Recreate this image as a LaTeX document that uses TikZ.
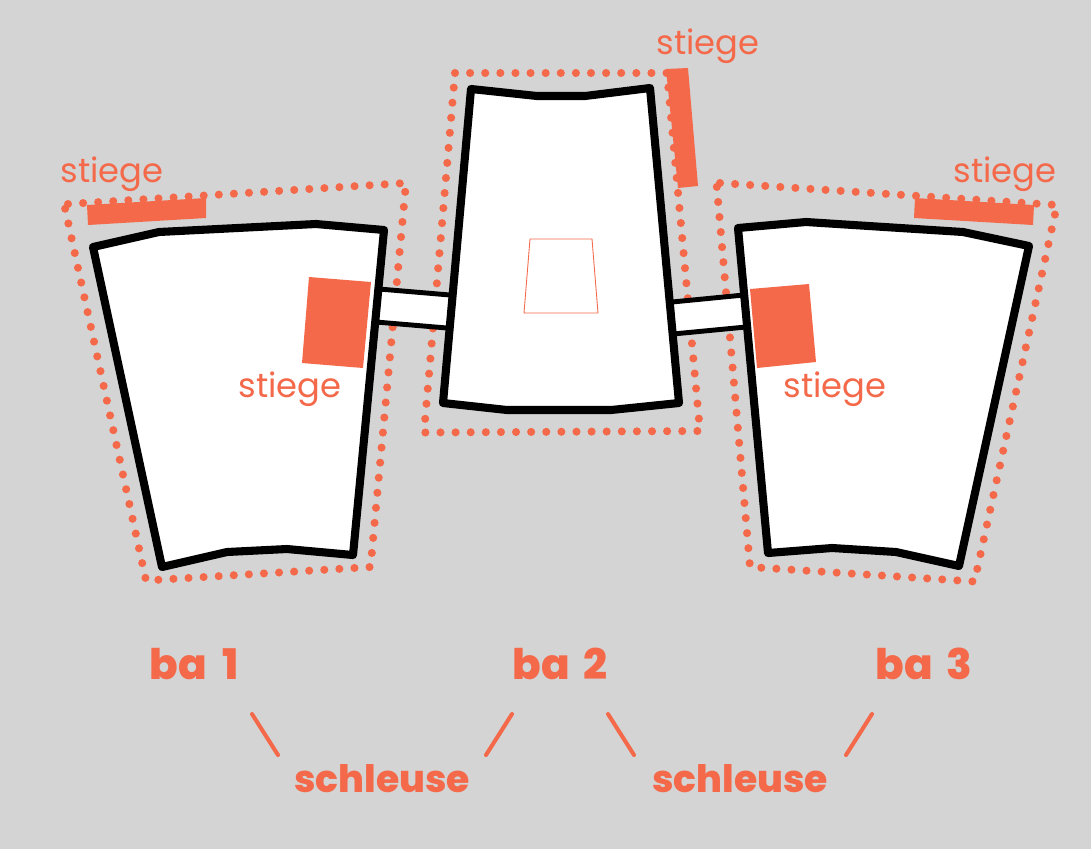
\documentclass[tikz,border=0pt]{standalone}
\usepackage{fontspec}
\setmainfont{Poppins}
\newfontfamily\bafont{Poppins ExtraBold}
\definecolor{stiegeorange}{HTML}{F4694A}
\definecolor{planbg}{HTML}{D4D4D4}
\tikzset{
	x=0.02cm, y=-0.02cm,
	wall/.style={line width=4.6pt, draw=black, fill=white, line join=round},
	sluice/.style={line width=2.8pt, draw=black},
	stair/.style={fill=stiegeorange},
	zone/.style={line width=4.6pt, draw=stiegeorange, line cap=round, dash pattern=on 0pt off 8.6pt},
	stiegelabel/.style={text=stiegeorange, font=\fontsize{19.2}{19.2}\selectfont, inner sep=0pt, anchor=base},
	balabel/.style={text=stiegeorange, font=\bafont\fontsize{24}{24}\selectfont, inner sep=0pt, anchor=base},
	schleuselabel/.style={text=stiegeorange, font=\bafont\fontsize{21.5}{21.5}\selectfont, inner sep=0pt, anchor=base},
	leader/.style={line width=2.3pt, draw=stiegeorange, line cap=round}
}

\begin{document}
\begin{tikzpicture}
			%%%%% START %%%%%
			
			\useasboundingbox[fill=planbg] (0, 0) rectangle (1091, 849);
			
			\draw[zone] (68, 204) -- (406, 183) -- (370.5, 567) -- (146, 580.5) -- (64, 203.5) -- cycle;
			\draw[zone] (455, 73) -- (667, 73) -- (700, 431) -- (424, 432.5) -- cycle;
			\draw[zone] (720, 183) -- (1057, 205) -- (974.5, 581.5) -- (750, 567) -- (716.5, 183) -- cycle;
			
			\fill[white] (379, 289) -- (450, 295) -- (447, 328) -- (376, 322) -- cycle;
			\draw[sluice] (379, 289) -- (450, 295);
			\draw[sluice] (376, 322) -- (447, 328);
			\fill[white] (672, 302) -- (744, 295) -- (746, 327) -- (673, 334) -- cycle;
			\draw[sluice] (672, 302) -- (744, 295);
			\draw[sluice] (673, 334) -- (746, 327);
			
			\draw[wall] (93, 247) -- (159, 232) -- (316, 224) -- (384, 230) -- (353, 555) -- (287, 549) -- (227, 552) -- (162, 567) -- cycle;
			\draw[wall] (471, 89) -- (537, 96) -- (585, 96) -- (650, 88) -- (679, 403) -- (611, 410) -- (507, 410) -- (443, 403) -- cycle;
			\draw[wall] (738, 228) -- (806, 222) -- (963, 232) -- (1029, 246) -- (959, 566) -- (896, 552) -- (832, 548) -- (768, 553) -- cycle;
			
			\draw[line width=0.5pt, draw=stiegeorange] (530, 239) -- (592, 239) -- (598, 313) -- (524, 313) -- cycle;
			
			\fill[stair] (87, 205) -- (206, 198) -- (206, 218) -- (88, 225) -- cycle;
			\fill[stair] (309, 277) -- (371, 282) -- (363, 368) -- (302, 363) -- cycle;
			\fill[stair] (666, 69) -- (688, 68) -- (698, 186) -- (678, 188) -- cycle;
			\fill[stair] (915, 198) -- (1034, 205) -- (1033, 225) -- (914, 218) -- cycle;
			\fill[stair] (750, 289) -- (809, 284) -- (816, 362) -- (757, 368) -- cycle;
			
			\node[stiegelabel] (stiegeA) at (112, 182) {stiege};
			\node[stiegelabel] (stiegeB) at (290, 397) {stiege};
			\node[stiegelabel] (stiegeC) at (708, 54) {stiege};
			\node[stiegelabel] (stiegeD) at (1005, 182) {stiege};
			\node[stiegelabel] (stiegeE) at (835, 397) {stiege};
			
			\node[balabel] (baA) at (194, 679) {ba\hspace{4pt} 1};
			\node[balabel] (baB) at (560, 679) {ba\hspace{3pt} 2};
			\node[balabel] (baC) at (924, 679) {ba\hspace{3pt} 3};
			\node[schleuselabel] (schleuseA) at (382, 792) {schleuse};
			\node[schleuselabel] (schleuseB) at (740, 792) {schleuse};
			
			\coordinate (baAend) at (252, 714);
			\coordinate (schleuseAleft) at (278, 755);
			\coordinate (baBleft) at (512, 714);
			\coordinate (schleuseAright) at (486, 755);
			\coordinate (baBright) at (608, 714);
			\coordinate (schleuseBleft) at (634, 755);
			\coordinate (baCend) at (872, 714);
			\coordinate (schleuseBright) at (846, 755);
			
			\draw[leader] (baAend) -- (schleuseAleft);
			\draw[leader] (baBleft) -- (schleuseAright);
			\draw[leader] (baBright) -- (schleuseBleft);
			\draw[leader] (baCend) -- (schleuseBright);
			
			%%%%% END %%%%%
		\end{tikzpicture}
\end{document}
